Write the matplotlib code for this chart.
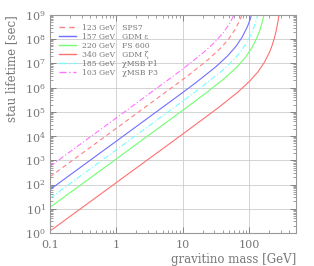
import matplotlib
matplotlib.use("Agg")
import matplotlib.pyplot as plt
from matplotlib.ticker import LogLocator, FixedLocator, FixedFormatter, NullFormatter

# gravitino mass [GeV] and stau lifetime [sec]
m_123 = [0.1, 1, 10, 12.3, 24.6, 36.9, 49.2, 61.5, 73.8, 79.95]
t_123 = [209.0, 2.09e4, 2.146e6, 3.29e6, 1.489e7, 4.15e7, 1.016e8, 2.498e8, 6.785e8, 1.201e9]

m_157 = [0.1, 1, 10, 15.7, 31.4, 47.1, 62.8, 78.5, 94.2, 102.05, 109.9]
t_157 = [61.7, 6168, 6.27e5, 1.583e6, 7.16e6, 1.996e7, 4.886e7, 1.201e8, 3.263e8, 5.775e8, 1.101e9]

m_220 = [0.1, 1, 10, 22, 44, 66, 88, 110, 132, 143, 154, 165, 176]
t_220 = [11.42, 1142, 1.152e5, 5.75e5, 2.60e6, 7.25e6, 1.776e7, 4.366e7, 1.186e8, 2.099e8, 4.0e8, 8.48e8, 2.1e9]

m_340 = [0.1, 1, 10, 34, 68, 102, 136, 170, 204, 221, 238, 255, 272, 289]
t_340 = [1.2, 120, 1.21e4, 1.45e5, 6.6e5, 1.84e6, 4.5e6, 1.11e7, 3.0e7, 5.3e7, 1.01e8, 2.15e8, 5.35e8, 1.71e9]

m_185 = [0.1, 1, 10, 18.5, 37, 55.5, 74, 92.5, 111, 120.25, 129.5, 138.75]
t_185 = [27.15, 2715, 2.747e5, 9.67e5, 4.38e6, 1.22e7, 2.986e7, 7.34e7, 1.994e8, 3.53e8, 6.73e8, 1.427e9]

m_103 = [0.1, 1, 10, 20.6, 30.9, 41.2, 51.5, 61.8]
t_103 = [560, 5.6e4, 5.82e6, 2.80e7, 7.8e7, 1.91e8, 4.69e8, 1.276e9]

labels = ["123 GeV   SPS7", "157 GeV   GDM \u03b5", "220 GeV   FS 600",
          "340 GeV   GDM \u03b6", "185 GeV   \u03c7MSB P1", "103 GeV   \u03c7MSB P3"]

xticks = [0.1, 1, 10, 100]
xticklabels = ["0.1", "1", "10", "100"]

gray = "#777777"
plt.rcParams["font.family"] = ["DejaVu Serif"]
plt.rcParams["mathtext.fontset"] = "cm"

fig = plt.figure(figsize=(3.14, 2.66), dpi=100)
ax = fig.add_axes([0.159, 0.124, 0.784, 0.820])

lw = 0.8
ax.plot(m_123, t_123, color="#ff8080", lw=lw, ls=(0, (4, 3)), label=labels[0])
ax.plot(m_157, t_157, color="#6f6fff", lw=lw, ls="-", label=labels[1])
ax.plot(m_220, t_220, color="#6fff6f", lw=lw, ls="-", label=labels[2])
ax.plot(m_340, t_340, color="#ff7070", lw=lw, ls="-", label=labels[3])
ax.plot(m_185, t_185, color="#70ffff", lw=lw, ls=(0, (5, 2, 1, 2)), label=labels[4])
ax.plot(m_103, t_103, color="#ff70ff", lw=lw, ls=(0, (5, 2, 1, 2)), label=labels[5])

ax.set_xscale("log")
ax.set_yscale("log")
ax.set_xlim(0.1, 510)
ax.set_ylim(1, 1e9)

ax.xaxis.set_major_locator(FixedLocator(xticks))
ax.xaxis.set_major_formatter(FixedFormatter(xticklabels))
ax.xaxis.set_minor_locator(LogLocator(base=10, subs=range(2, 10), numticks=20))
ax.xaxis.set_minor_formatter(NullFormatter())
ax.yaxis.set_major_locator(LogLocator(base=10, numticks=20))
ax.yaxis.set_minor_locator(LogLocator(base=10, subs=range(2, 10), numticks=20))
ax.yaxis.set_minor_formatter(NullFormatter())

ax.tick_params(which="both", direction="in", top=True, right=True, colors=gray,
               labelcolor=gray, labelsize=8)
ax.tick_params(which="major", length=4, width=0.6)
ax.tick_params(axis="x", which="major", pad=5)
ax.tick_params(axis="y", which="major", pad=3)
ax.tick_params(which="minor", length=2, width=0.5)
ax.grid(True, which="major", color="#cccccc", lw=0.6)
for s in ax.spines.values():
    s.set_color("#999999")
    s.set_linewidth(0.8)

ax.set_xlabel("gravitino mass [GeV]", color=gray, fontsize=8.5, loc="right", labelpad=2)
ax.set_ylabel("stau lifetime [sec]", color=gray, fontsize=8.5, loc="top", labelpad=5)

leg = ax.legend(loc="upper left", frameon=False, fontsize=5.5, handlelength=2.2,
                labelspacing=0.12, borderaxespad=0.8, handletextpad=0.8,
                borderpad=0.4)
for t in leg.get_texts():
    t.set_color(gray)
for h in leg.get_lines():
    h.set_linewidth(1.0)

fig.savefig("out.png", dpi=100)
